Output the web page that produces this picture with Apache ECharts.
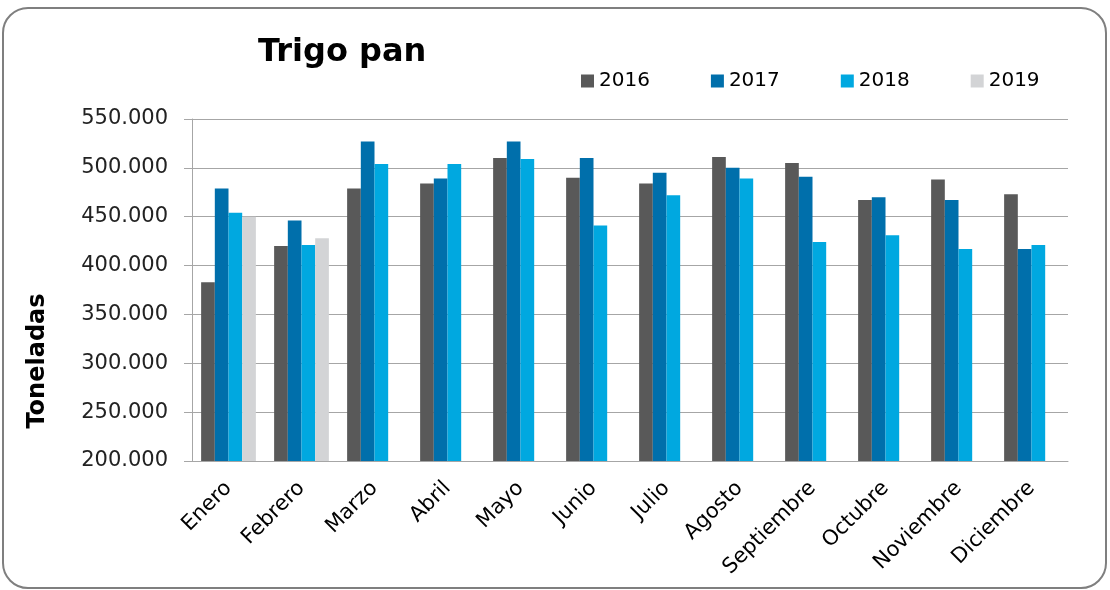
<!DOCTYPE html>
<html>
<head>
<meta charset="utf-8">
<script src="https://cdn.jsdelivr.net/npm/echarts@6/dist/echarts.min.js"></script>
<style>
html,body{margin:0;padding:0;background:#fff;}
#chart{width:1110px;height:590px;}
</style>
</head>
<body>
<div id="chart"></div>
<script>
const months = ['Enero','Febrero','Marzo','Abril','Mayo','Junio','Julio','Agosto','Septiembre','Octubre','Noviembre','Diciembre'];
const s2016 = [383000, 420000, 479000, 484000, 510000, 490000, 484000, 511000, 505000, 467000, 488000, 473000];
const s2017 = [479000, 446000, 527000, 489000, 527000, 510000, 495000, 500000, 491000, 470000, 467000, 417000];
const s2018 = [454000, 421000, 504000, 504000, 509000, 441000, 472000, 489000, 424000, 431000, 417000, 421000];
const s2019 = [450000, 428000, null, null, null, null, null, null, null, null, null, null];
const seriesNames = ['2016','2017','2018','2019'];
const colors = ['#595959','#006FAB','#00A8E0','#D3D4D6'];
const titleText = 'Trigo pan';
const yAxisName = 'Toneladas';

function fmt(v){
  return String(v).replace(/\B(?=(\d{3})+(?!\d))/g, '.');
}

const chart = echarts.init(document.getElementById('chart'));
const font = 'DejaVu Sans';
chart.setOption({
  animation: false,
  color: colors,
  title: {
    text: titleText,
    left: 253, top: 32,
    textStyle: {fontFamily: font, fontWeight: 'bold', fontSize: 32, color: '#000'}
  },
  legend: {
    data: seriesNames,
    left: 576, top: 66,
    itemWidth: 13, itemHeight: 13, itemGap: 61,
    icon: 'rect',
    textStyle: {fontFamily: font, fontSize: 20, color: '#000'}
  },
  graphic: [{
    type: 'rect',
    shape: {x: 3, y: 8, width: 1103, height: 580, r: 25},
    style: {fill: 'none', stroke: '#7F7F7F', lineWidth: 2},
    silent: true
  }, {
    type: 'text',
    x: 38, y: 361,
    rotation: Math.PI / 2,
    style: {text: yAxisName, font: 'bold 24px "DejaVu Sans"', fill: '#000', align: 'center', verticalAlign: 'middle'},
    silent: true
  }],
  grid: {left: 192, right: 42, top: 119, bottom: 129},
  xAxis: {
    type: 'category',
    data: months,
    axisLine: {lineStyle: {color: '#A6A6A6', width: 1}},
    axisTick: {show: false},
    axisLabel: {rotate: 45, interval: 0, margin: 24, fontFamily: font, fontSize: 21, color: '#000'}
  },
  yAxis: {
    type: 'value',
    min: 200000, max: 550000, interval: 50000,
    axisLine: {show: true, lineStyle: {color: '#A6A6A6'}},
    axisTick: {show: true, length: 8, lineStyle: {color: '#A6A6A6'}},
    splitLine: {lineStyle: {color: '#A6A6A6', width: 1}},
    axisLabel: {formatter: fmt, fontFamily: font, fontSize: 21, color: '#222', margin: 24}
  },
  series: [
    {name: seriesNames[0], type: 'bar', data: s2016, barGap: '0%', barCategoryGap: '25%'},
    {name: seriesNames[1], type: 'bar', data: s2017, barGap: '0%', barCategoryGap: '25%'},
    {name: seriesNames[2], type: 'bar', data: s2018, barGap: '0%', barCategoryGap: '25%'},
    {name: seriesNames[3], type: 'bar', data: s2019, barGap: '0%', barCategoryGap: '25%'}
  ]
});
</script>
</body>
</html>
